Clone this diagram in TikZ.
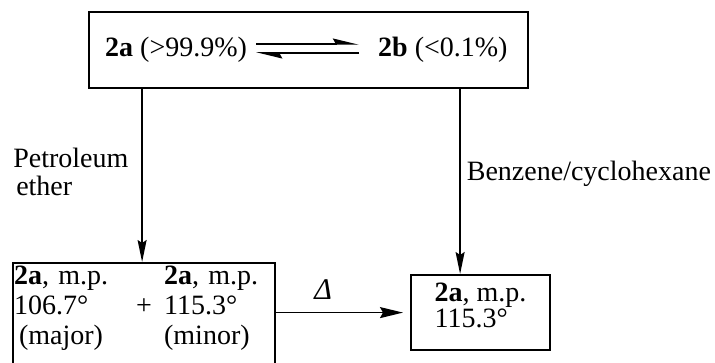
\documentclass[tikz,border=0pt]{standalone}
\usepackage{fontspec}
\setmainfont{Liberation Serif}
\usetikzlibrary{arrows.meta,positioning}

\begin{document}
\begin{tikzpicture}[x=1pt,y=-1pt,
  box/.style={draw,line width=2.2pt,inner sep=0pt},
  txt/.style={font=\fontsize{28}{25}\selectfont,inner sep=0pt},
  conn/.style={line width=1.5pt,-{Stealth[length=22pt,width=9pt,inset=3pt]}},
  eqarrow/.style={line width=1.5pt,-{Stealth[harpoon,length=23pt,width=11pt,inset=3pt]}}]
\useasboundingbox (0,0) rectangle (715,363);
\clip (0,0) rectangle (715,363);

\node[box,minimum width=439pt,minimum height=76pt] (equil) at (308.5,50) {};
\node[txt,anchor=base west] (eqa) at (105,57) {\textbf{2a} (>99.9\%)};
\node[txt,anchor=base west] (eqb) at (378,57) {\textbf{2b} (<0.1\%)};
\draw[eqarrow] ([xshift=9pt,yshift=13pt]eqa.base east) -- ([xshift=-19pt,yshift=13pt]eqb.base west);
\draw[eqarrow] ([xshift=-19pt,yshift=4pt]eqb.base west) -- ([xshift=9pt,yshift=4pt]eqa.base east);

\node[box,txt,anchor=north west,inner xsep=1pt,text width=260pt,align=left,
  text height=21pt,text depth=90pt] (mix) at (12,262)
  {\fontsize{28}{30}\selectfont\begin{tabular}[t]{@{}p{122pt}@{}c@{\hspace{12pt}}l@{}}
  \textbf{2a}, m.p. & & \textbf{2a}, m.p.\\
  106.7° & \makebox[16pt]{+} & 115.3°\\
  \hspace{5pt}(major) & & (minor)
  \end{tabular}};
\node[box,txt,anchor=north west,minimum width=139pt,
  text height=26pt,text depth=49pt] (pure) at (410,274)
  {\fontsize{28}{25}\selectfont\begin{tabular}[t]{@{}l@{}}
  \textbf{2a}, m.p.\\
  115.3°
  \end{tabular}};

\draw[conn] ([xshift=-2pt]mix.north |- equil.south) -- node[txt,pos=0.48,left=13pt,align=left,font=\fontsize{28}{28}\selectfont] (petrol) {Petroleum\\\hspace{3pt}ether} ([xshift=-2pt]mix.north);
\draw[conn] ([xshift=-20.5pt]pure.north |- equil.south) -- node[txt,pos=0.46,right=6pt] (solvent) {Benzene/cyclohexane} ([xshift=-20.5pt]pure.north);
\draw[conn,-{Stealth[length=23pt,width=11pt,inset=3pt]}] (mix.east |- pure.west) -- node[pos=0.37,above=12pt,inner sep=0pt,font=\fontsize{30}{30}\selectfont\itshape] (heat) {Δ} ([xshift=-7pt]pure.west);
\end{tikzpicture}
\end{document}
